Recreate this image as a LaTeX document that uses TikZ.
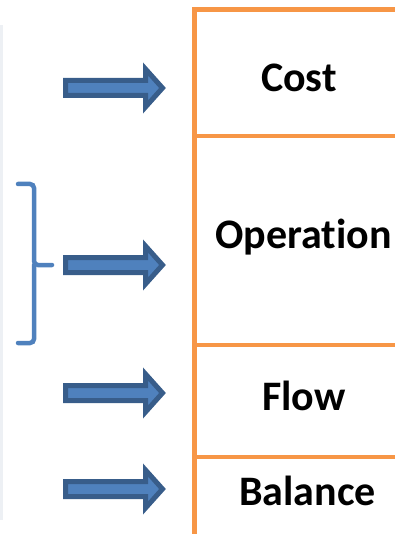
\documentclass[tikz,border=0pt]{standalone}
\usepackage{fontspec}
\setmainfont{Carlito}[RawFeature={-liga;-calt;-dlig;-clig}]
\definecolor{arrfill}{HTML}{4F81BD}
\definecolor{arrline}{HTML}{385D8A}
\definecolor{cellline}{HTML}{F79646}
\definecolor{edgegray}{HTML}{EDF0F4}
\tikzset{
  blockarrow/.pic={\draw[fill=arrfill,draw=arrline,line width=5pt,line join=miter,miter limit=10]
    (-48.5,-7.5) -- (31.5,-7.5) -- (31.5,-19) -- (48.5,0) -- (31.5,19) -- (31.5,7.5) -- (-48.5,7.5) -- cycle;},
  celltext/.style={font=\bfseries\fontsize{42}{42}\selectfont,anchor=base,inner sep=0pt},
  cellrule/.style={draw=cellline,line width=4.5pt},
  bracestyle/.style={draw=arrfill,line width=4.5pt,rounded corners=4pt,line cap=round}
}
\begin{document}
\begin{tikzpicture}[x=1pt,y=-1pt]
\useasboundingbox (0,0) rectangle (395,534);
\clip (0,0) rectangle (395,534);
% faint left edge
\draw[edgegray,line width=3pt] (1.5,25) -- (1.5,520);
% table rules
\coordinate (tl) at (194.5,9.5);
\coordinate (bl) at (194.5,540);
\draw[cellrule] (tl) -- (bl);
\draw[cellrule] (192,9.5) -- (400,9.5);
\draw[cellrule] (192,136) -- (400,136);
\draw[cellrule] (192,345) -- (400,345);
\draw[cellrule] (192,457) -- (400,457);
% texts
\node[celltext] (cost) at (299,92) {Cost};
\node[celltext] (oper) at (303.5,248) {Operat\kern0pt ion};
\node[celltext] (flow) at (304,410) {Flow};
\node[celltext] (bal) at (307.5,505) {Balance};
% arrows
\pic (a1) at (114,88) {blockarrow};
\pic (a2) at (114,265) {blockarrow};
\pic (a3) at (114,393) {blockarrow};
\pic (a4) at (114,489) {blockarrow};
% brace
\coordinate (btop) at (18,184);
\coordinate (bbot) at (18,343);
\coordinate (btip) at (52,265);
\draw[bracestyle] (btop) -- (34,184) -- (34,265) -- (btip);
\draw[bracestyle] (bbot) -- (34,343) -- (34,265);
\end{tikzpicture}
\end{document}
